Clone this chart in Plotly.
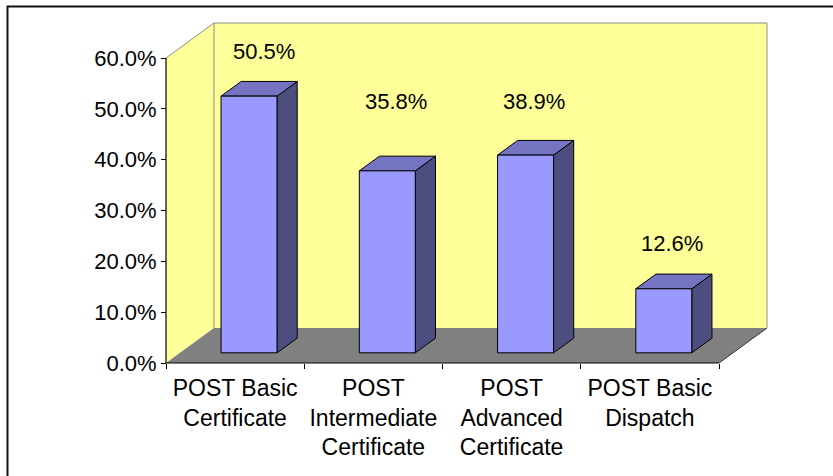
import plotly.graph_objects as go

# ---------------- data ----------------
categories = ["POST Basic<br>Certificate", "POST<br>Intermediate<br>Certificate",
              "POST<br>Advanced<br>Certificate", "POST Basic<br>Dispatch"]
values = [50.5, 35.8, 38.9, 12.6]
value_labels = ["50.5%", "35.8%", "38.9%", "12.6%"]
y_tick_values = [0, 10, 20, 30, 40, 50, 60]
y_tick_labels = ["0.0%", "10.0%", "20.0%", "30.0%", "40.0%", "50.0%", "60.0%"]

# ---------------- style / geometry ----------------
W, H = 833, 476
PX_X = 138.25          # px per category
PX_Y = 305 / 60.0      # px per percent
X0_PX, Y0_PX = 166, 363  # front origin in pixels
PAD = 3
DX = 48 / PX_X         # depth offset (x units)
DY = 35 / PX_Y         # depth offset (percent units)
YMAX = 60
N = len(values)
BAR_W = 56 / PX_X
T0, T1 = 0.29, 0.71    # bar depth fraction (front/back)
LABEL_DX = [0.209, 0.164, 0.162, 0.160]
LABEL_DY = [10.7, 15.7, 12.6, 11.0]

FONT = "Liberation Sans, Arial, sans-serif"
YELLOW = "#FFFF99"
FLOOR = "#808080"
FRONT = "#9999FF"
TOP = "rgb(116,116,194)"
SIDE = "rgb(77,77,128)"
WALL_EDGE = "#8c8c8c"

plot_l = X0_PX - PAD
plot_r = X0_PX + 4 * PX_X + 48 + PAD
plot_t = Y0_PX - (YMAX * PX_Y + 35) - PAD
plot_b = Y0_PX + PAD
xr = [-PAD / PX_X, (plot_r - X0_PX) / PX_X]
yr = [-PAD / PX_Y, (Y0_PX - plot_t) / PX_Y]

fig = go.Figure()


def poly(xs, ys, fill, line_color=None, line_width=0):
    fig.add_trace(go.Scatter(
        x=xs + [xs[0]], y=ys + [ys[0]], mode="lines", fill="toself",
        fillcolor=fill,
        line=dict(color=line_color or fill, width=line_width if line_color else 0),
        hoverinfo="skip", showlegend=False))


def line(xs, ys, color, width=1):
    fig.add_trace(go.Scatter(x=xs, y=ys, mode="lines",
                             line=dict(color=color, width=width),
                             hoverinfo="skip", showlegend=False))


# walls and floor
poly([0, DX, DX, 0], [YMAX, YMAX + DY, DY, 0], YELLOW)
poly([DX, N + DX, N + DX, DX], [YMAX + DY, YMAX + DY, DY, DY], YELLOW)
poly([0, N, N + DX, DX], [0, 0, DY, DY], FLOOR)
# wall edges
line([0, DX, N + DX, N + DX], [YMAX, YMAX + DY, YMAX + DY, DY], WALL_EDGE)
line([DX, DX], [YMAX + DY, DY], WALL_EDGE)
line([N, N + DX], [0, DY], "#333333")

# bars
for i, v in enumerate(values):
    c = i + 0.5
    xl, xrr = c - BAR_W / 2, c + BAR_W / 2
    fx0, fy0 = T0 * DX, T0 * DY
    bx0, by0 = T1 * DX, T1 * DY
    # side
    poly([xrr + fx0, xrr + bx0, xrr + bx0, xrr + fx0],
         [fy0, by0, v + by0, v + fy0], SIDE, "black", 1)
    # top
    poly([xl + fx0, xrr + fx0, xrr + bx0, xl + bx0],
         [v + fy0, v + fy0, v + by0, v + by0], TOP, "black", 1)
    # front
    poly([xl + fx0, xrr + fx0, xrr + fx0, xl + fx0],
         [fy0, fy0, v + fy0, v + fy0], FRONT, "black", 1)

# axis lines
line([0, 0], [0, YMAX], "black", 1.2)
line([0, N], [0, 0], "black", 1.2)

# dummy trace to keep label axis alive
fig.add_trace(go.Scatter(x=[0.5], y=[None], xaxis="x2", mode="markers",
                         showlegend=False, hoverinfo="skip"))

# value labels
for i, (v, t) in enumerate(zip(values, value_labels)):
    fig.add_annotation(x=i + 0.5 + LABEL_DX[i], y=v + LABEL_DY[i], text=t,
                       showarrow=False, font=dict(family=FONT, size=22, color="black"),
                       xanchor="center", yanchor="middle")

# outer border
def px_to_paper(px, py):
    return ((px - plot_l) / (plot_r - plot_l), (plot_b - py) / (plot_b - plot_t))

bx1, by1 = px_to_paper(7.5, 480)
bx2, by2 = px_to_paper(7.5, 6.5)
bx3, by3 = px_to_paper(840, 6.5)
fig.add_shape(type="path", xref="paper", yref="paper",
              path=f"M {bx1} {by1} L {bx2} {by2} L {bx3} {by3}",
              line=dict(color="#111111", width=2))

pos_x = PAD / (plot_r - plot_l)
pos_y = PAD / (plot_b - plot_t)

fig.update_layout(
    width=W, height=H, autosize=False,
    margin=dict(l=plot_l, r=W - plot_r, t=plot_t, b=H - plot_b, pad=0),
    paper_bgcolor="white", plot_bgcolor="white",
    showlegend=False,
    font=dict(family=FONT, color="black"),
    xaxis=dict(range=xr, anchor="free", position=pos_y, showgrid=False,
               zeroline=False, showline=False,
               tickmode="array", tickvals=list(range(N + 1)),
               ticks="outside", ticklen=5, tickwidth=1.2, tickcolor="black",
               showticklabels=False, fixedrange=True),
    xaxis2=dict(range=xr, overlaying="x", anchor="free", position=pos_y,
                side="bottom", showgrid=False, zeroline=False, showline=False,
                tickmode="array", tickvals=[i + 0.5 for i in range(N)],
                ticktext=categories, ticks="outside", ticklen=4,
                tickcolor="rgba(0,0,0,0)",
                tickfont=dict(family=FONT, size=23, color="black"),
                fixedrange=True),
    yaxis=dict(range=yr, anchor="free", position=pos_x, showgrid=False,
               zeroline=False, showline=False,
               tickmode="array", tickvals=y_tick_values, ticktext=y_tick_labels,
               ticks="outside", ticklen=5, tickwidth=1.2, tickcolor="black",
               tickfont=dict(family=FONT, size=22, color="black"),
               fixedrange=True),
)

fig.write_html("out.html", config={"displayModeBar": False},
               post_script="document.body.style.margin='0';"
                           "document.body.style.overflow='hidden';")
